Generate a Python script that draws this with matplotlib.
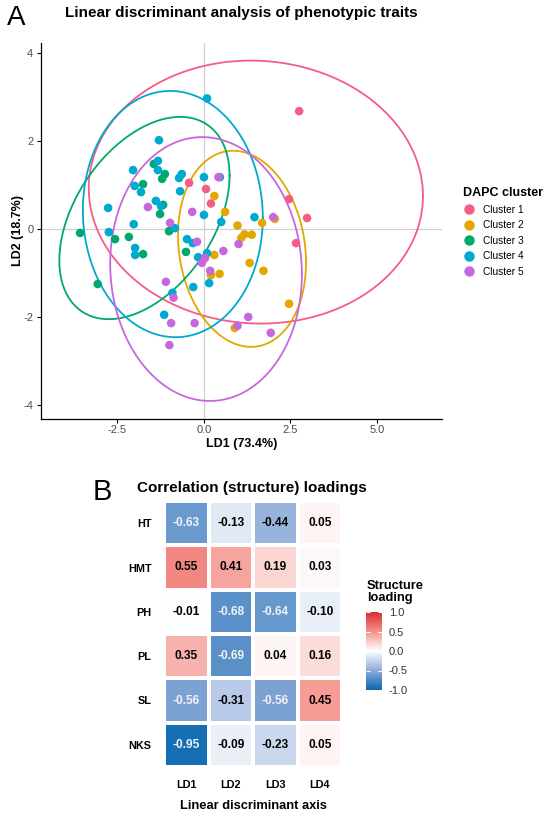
import numpy as np
import matplotlib
matplotlib.use("Agg")
import matplotlib.pyplot as plt
from matplotlib.colors import LinearSegmentedColormap
from matplotlib.lines import Line2D

plt.rcParams['font.family'] = ['Liberation Sans', 'DejaVu Sans']
plt.rcParams['axes.unicode_minus'] = False

# ---- panel A data (LD1, LD2 scores) ----
cluster_names = ['Cluster 1', 'Cluster 2', 'Cluster 3', 'Cluster 4', 'Cluster 5']
cluster_colors = ['#F45D84', '#E2A800', '#00A86E', '#00A9D0', '#C867DD']

c1_ld1 = [-0.43, 0.06, 0.20, 2.75, 2.46, 2.98, 2.66]
c1_ld2 = [1.05, 0.91, 0.58, 2.68, 0.68, 0.25, -0.32]

c2_ld1 = [0.30, 0.61, 0.97, 1.17, 1.08, 1.38, 1.68, 2.05, 1.32, 1.72, 0.30, 0.20, 0.45, 2.46, 0.89]
c2_ld2 = [0.75, 0.39, 0.08, -0.12, -0.20, -0.13, 0.14, 0.23, -0.77, -0.95, -0.59, -1.05, -1.02, -1.70, -2.25]

c3_ld1 = [-1.45, -1.13, -1.21, -1.76, -1.18, -1.27, -1.01, -3.58, -2.57, -2.17, -1.76, -0.52, -3.07]
c3_ld2 = [1.48, 1.25, 1.14, 1.02, 0.55, 0.34, -0.05, -0.09, -0.23, -0.18, -0.57, -0.52, -1.25]

c4_ld1 = [0.09, -1.30, -2.05, -1.33, -1.33, -0.72, -0.64, 0.00, 0.46, -2.00, -1.82, -0.69, -2.77,
          -1.39, -1.24, 0.00, 0.50, -2.03, -0.84, -2.75, -1.99, -1.99, -0.49, -0.32, -0.17, 0.09,
          -0.31, 0.15, -0.91, -1.15, 1.46]
c4_ld2 = [2.97, 2.02, 1.34, 1.34, 1.55, 1.16, 1.25, 1.18, 1.18, 0.98, 0.84, 0.86, 0.48,
          0.64, 0.52, 0.32, 0.16, 0.11, 0.02, -0.07, -0.43, -0.59, -0.23, -0.32, -0.64, -0.55,
          -1.32, -1.23, -1.45, -1.95, 0.27]

c5_ld1 = [0.42, -1.62, -0.34, -0.98, -0.20, 0.03, -0.06, 0.56, 0.18, -1.10, -0.88, -0.95, -0.27,
          -1.00, 1.00, 2.00, 0.97, 1.28, 1.93]
c5_ld2 = [1.18, 0.50, 0.39, 0.14, -0.29, -0.66, -0.77, -0.50, -0.95, -1.20, -1.56, -2.14, -2.14,
          -2.64, -0.34, 0.27, -2.20, -2.00, -2.36]

scores_ld1 = [c1_ld1, c2_ld1, c3_ld1, c4_ld1, c5_ld1]
scores_ld2 = [c1_ld2, c2_ld2, c3_ld2, c4_ld2, c5_ld2]

# 95% ellipses: centre, half extents along LD1/LD2, and skew (sin of phase shift)
ell_cx = [1.50, 1.10, -1.72, -0.90, 0.06]
ell_cy = [0.84, -0.45, 0.25, 0.34, -0.91]
ell_rx = [4.83, 1.85, 2.46, 2.60, 2.77]
ell_ry = [2.99, 2.23, 2.30, 2.80, 3.00]
ell_skew = [-0.03, -0.14, 0.42, -0.03, -0.04]

# ---- panel B data ----
traits = ['HT', 'HMT', 'PH', 'PL', 'SL', 'NKS']
axes_ld = ['LD1', 'LD2', 'LD3', 'LD4']
loadings = np.array([
    [-0.63, -0.13, -0.44, 0.05],
    [0.55, 0.41, 0.19, 0.03],
    [-0.01, -0.68, -0.64, -0.10],
    [0.35, -0.69, 0.04, 0.16],
    [-0.56, -0.31, -0.56, 0.45],
    [-0.95, -0.09, -0.23, 0.05],
])

W, H = 550, 818
fig = plt.figure(figsize=(W / 100, H / 100), dpi=100)


def fx(px):
    return px / W


def fy(py):
    return 1 - py / H


# ================= panel A =================
ax = fig.add_axes([fx(41), fy(419), fx(442) - fx(41), fy(43) - fy(419)])
ax.axhline(0, color='#D0D0D0', lw=0.9, zorder=0)
ax.axvline(0, color='#D0D0D0', lw=0.9, zorder=0)

t = np.linspace(0, 2 * np.pi, 300)
for i in range(5):
    phi = np.arcsin(ell_skew[i])
    ex = ell_cx[i] + ell_rx[i] * np.cos(t)
    ey = ell_cy[i] + ell_ry[i] * np.sin(t + phi)
    ax.plot(ex, ey, color=cluster_colors[i], lw=1.3, zorder=2)

for i in range(5):
    ax.scatter(scores_ld1[i], scores_ld2[i], s=38, color=cluster_colors[i],
               edgecolors='none', zorder=3)

ax.set_xlim(-4.71, 6.88)
ax.set_ylim(-4.32, 4.23)
ax.set_xticks([-2.5, 0.0, 2.5, 5.0])
ax.set_xticklabels(['-2.5', '0.0', '2.5', '5.0'])
ax.set_yticks([-4, -2, 0, 2, 4])
ax.spines['top'].set_visible(False)
ax.spines['right'].set_visible(False)
ax.spines['left'].set_linewidth(0.9)
ax.spines['bottom'].set_linewidth(0.9)
ax.tick_params(length=3, width=0.8, labelsize=8, labelcolor='#4D4D4D', pad=2.5)
ax.tick_params(axis='x', pad=1.5)
ax.set_xlabel('LD1 (73.4%)', fontsize=9, fontweight='bold')
ax.set_ylabel('LD2 (18.7%)', fontsize=9, fontweight='bold')
ax.xaxis.set_label_coords(0.5, (419 - 444) / 376, transform=ax.transAxes)
ax.yaxis.set_label_coords((18 - 41) / 401, 0.5, transform=ax.transAxes)
ax.xaxis.label.set_va('center')
ax.yaxis.label.set_va('center')

fig.text(fx(241.5), fy(13), 'Linear discriminant analysis of phenotypic traits',
         ha='center', va='center', fontsize=11, fontweight='bold')
fig.text(fx(7), fy(18), 'A', ha='left', va='center', fontsize=20)

handles = [Line2D([], [], ls='none', marker='o', markersize=6.5, color=c) for c in cluster_colors]
leg = ax.legend(handles, cluster_names, title='DAPC cluster', loc='upper left',
                bbox_to_anchor=(fx(458), fy(182)), bbox_transform=fig.transFigure,
                frameon=False, fontsize=7.3, title_fontproperties={'weight': 'bold', 'size': 9},
                handletextpad=0.8, labelspacing=0.55, borderpad=0, handlelength=1.2,
                alignment='left')

# ================= panel B =================
cmap = LinearSegmentedColormap.from_list(
    'loading', [(0.0, '#0868B0'), (0.25, '#8CAAD8'), (0.5, '#FFFFFF'),
                (0.75, '#F59189'), (1.0, '#DC2A32')])

ax2 = fig.add_axes([fx(164), fy(767), fx(342) - fx(164), fy(501) - fy(767)])
mesh = ax2.pcolormesh(loadings, cmap=cmap, vmin=-1, vmax=1,
                      edgecolors='white', linewidth=1.5)
ax2.set_xlim(0, 4)
ax2.set_ylim(6, 0)
for r in range(loadings.shape[0]):
    for c in range(loadings.shape[1]):
        v = loadings[r, c]
        ax2.text(c + 0.5, r + 0.5, f'{v:.2f}', ha='center', va='center',
                 fontsize=8.6, fontweight='bold',
                 color='#F2F2F2' if v < -0.5 else 'black')
ax2.set_xticks(np.arange(4) + 0.5)
ax2.set_xticklabels(axes_ld)
ax2.set_yticks(np.arange(6) + 0.5)
ax2.set_yticklabels(traits)
ax2.tick_params(length=0, labelsize=7.8, pad=9)
for lbl in ax2.get_xticklabels() + ax2.get_yticklabels():
    lbl.set_fontweight('bold')
for s in ax2.spines.values():
    s.set_visible(False)
ax2.set_xlabel('Linear discriminant axis', fontsize=9.3, fontweight='bold')
ax2.xaxis.set_label_coords(0.5, -(806 - 767) / 266, transform=ax2.transAxes)
ax2.xaxis.label.set_va('center')

fig.text(fx(137), fy(488), 'Correlation (structure) loadings', ha='left', va='center',
         fontsize=11, fontweight='bold')
fig.text(fx(93), fy(492), 'B', ha='left', va='center', fontsize=21)

cax = fig.add_axes([fx(366), fy(690), fx(16), fy(612) - fy(690)])
cbar = fig.colorbar(mesh, cax=cax, ticks=[-1, -0.5, 0, 0.5, 1])
cbar.ax.set_yticklabels(['-1.0', '-0.5', '0.0', '0.5', '1.0'])
cbar.outline.set_visible(False)
cax.tick_params(direction='in', color='white', length=3, width=0.8,
                left=True, right=True, labelsize=8, labelcolor='#333333', pad=5)
fig.text(fx(367), fy(592), 'Structure\nloading', ha='left', va='center',
         fontsize=9.3, fontweight='bold', linespacing=1.0)

fig.savefig('out.png', dpi=100)
